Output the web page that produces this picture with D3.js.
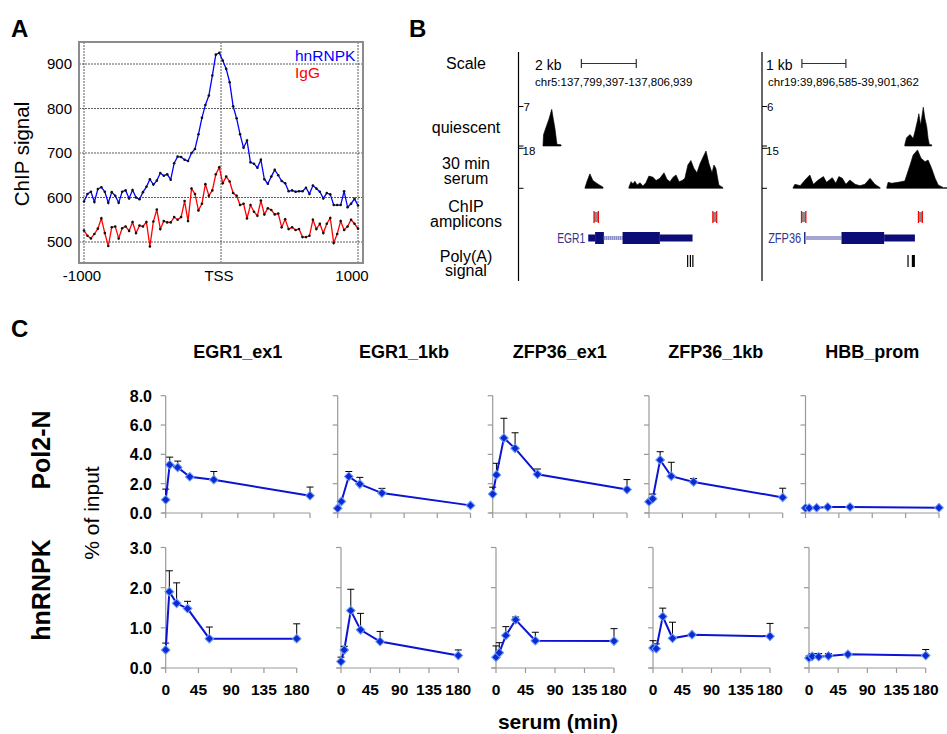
<!DOCTYPE html>
<meta charset="utf-8">
<script src="https://d3js.org/d3.v7.min.js"></script>
<head>
    <title>hnRNPK ChIP figure</title>
    <style>
        body { margin: 0; background: #fff; }
        text { font-family: "Liberation Sans", Arial, sans-serif; }
    </style>
</head>
<body>
<div id="fig"></div>
<script>
    // ---------- panel A: ChIP signal around TSS (80 bins, -1000..1000)
    const binCount = 80;
    const hnrnpkSignal = [591, 608, 613, 590, 619, 623, 613, 588, 612, 604,
        588, 613, 616, 598, 617, 600, 596, 612, 624, 641,
        629, 638, 655, 649, 652, 640, 677, 692, 691, 685,
        682, 700, 709, 742, 779, 808, 829, 874, 921, 925,
        908, 889, 859, 805, 778, 742, 712, 728, 679, 676,
        667, 685, 641, 631, 647, 662, 650, 637, 632, 614,
        616, 613, 614, 614, 622, 608, 627, 620, 613, 598,
        610, 607, 583, 583, 583, 614, 578, 586, 597, 582];
    const iggSignal = [526, 514, 508, 518, 530, 553, 520, 491, 533, 535,
        508, 531, 535, 525, 545, 520, 537, 535, 545, 490,
        546, 573, 529, 547, 544, 544, 556, 550, 556, 592,
        547, 620, 608, 571, 586, 630, 604, 616, 652, 668,
        632, 647, 636, 610, 604, 583, 586, 553, 583, 568,
        559, 593, 562, 576, 572, 562, 564, 533, 551, 529,
        533, 527, 529, 511, 511, 514, 550, 529, 541, 520,
        541, 554, 498, 518, 547, 527, 535, 550, 541, 530];
    const yTicksA = [500, 600, 700, 800, 900];
    const xTicksA = [-1000, 0, 1000];
    const xTickLabelsA = ["-1000", "TSS", "1000"];

    // ---------- panel B: browser tracks, positions in kb from locus start
    const egr1Quiescent = [[0.80, 0], [0.82, 2.0], [0.91, 3.3], [1.02, 4.8], [1.12, 6.5], [1.17, 5.0],
        [1.24, 3.0], [1.31, 0.3], [1.46, 0.2]];
    const egr1Serum = [[2.33, 0.2], [2.40, 3], [2.51, 6.5], [2.62, 3.5], [2.77, 2.2], [2.99, 0.5], [3.0, null],
        [3.93, 0.5], [4.01, 3.0], [4.08, 2.0], [4.15, 3.2], [4.23, 1.5], [4.34, 2.5], [4.44, 1.0],
        [4.55, 2.5], [4.66, 5.5], [4.81, 5.0], [4.92, 3.5], [5.06, 4.5], [5.21, 7.0], [5.32, 4.0],
        [5.43, 3.0], [5.54, 5.0], [5.65, 6.0], [5.76, 3.0], [5.87, 3.5], [5.97, 4.5], [6.08, 10.5],
        [6.19, 12.5], [6.30, 9], [6.41, 7], [6.52, 11], [6.63, 14], [6.74, 16.8], [6.85, 11],
        [6.96, 7], [7.03, 10.5], [7.10, 9], [7.21, 1.5], [7.36, 0.3]];
    const zfp36Quiescent = [[3.18, 0.2], [3.22, 1.25], [3.30, 1.75], [3.37, 1.15], [3.41, 2.15],
        [3.47, 3.9], [3.50, 4.9], [3.54, 3.15], [3.60, 5.9], [3.64, 4.15], [3.68, 2.9],
        [3.71, 1.15], [3.74, 0.2], [3.79, 0.2]];
    const zfp36Serum = [[0.64, 0.3], [0.68, 1.5], [0.80, 1.0], [0.91, 3.1], [1.02, 5.0], [1.10, 1.5],
        [1.21, 3.1], [1.33, 4.4], [1.40, 2.25], [1.53, 4.0], [1.61, 1.9], [1.68, 4.4], [1.76, 3.75],
        [1.84, 1.5], [1.93, 3.1], [2.05, 1.5], [2.16, 1.0], [2.27, 1.5], [2.39, 3.75], [2.50, 1.5],
        [2.62, 0.25], [2.64, null], [2.77, 0.3], [2.80, 2.25], [2.88, 1.9], [3.03, 2.25], [3.18, 2.75],
        [3.30, 8.75], [3.37, 12.5], [3.47, 14.4], [3.55, 11.25], [3.64, 10], [3.71, 10.6],
        [3.79, 7.5], [3.87, 3.75], [3.94, 1.25], [4.06, 0.25], [4.21, 0.25]];
    const egr1Gene = [[2.45, 2.70, "utr"], [2.70, 3.02, "cds"], [3.02, 3.70, "intron"],
        [3.70, 5.06, "cds"], [5.06, 6.25, "utr"]];
    const zfp36Gene = [[0.89, 0.92, "cds"], [0.92, 1.74, "intron"], [1.74, 2.71, "cds"], [2.71, 3.41, "utr"]];
    const egr1Amplicons = [[2.66, 2.82], [6.99, 7.13]];
    const zfp36Amplicons = [[0.83, 0.93], [3.49, 3.58]];
    const egr1PolyA = [[6.05, 6.07], [6.15, 6.17], [6.24, 6.26]];
    const zfp36PolyA = [[3.24, 3.26], [3.34, 3.41]];
    const trackLabels = [["Scale"], ["quiescent"], ["30 min", "serum"], ["ChIP", "amplicons"], ["Poly(A)", "signal"]];

    // ---------- panel C: time course, % of input
    const timePoints = [0, 5, 15, 30, 60, 180];
    const xTicksC = [0, 45, 90, 135, 180];
    const ampliconNames = ["EGR1_ex1", "EGR1_1kb", "ZFP36_ex1", "ZFP36_1kb", "HBB_prom"];
    const pol2Values = [
        [0.90, 3.29, 3.11, 2.47, 2.27, 1.18],
        [0.32, 0.79, 2.49, 1.97, 1.36, 0.52],
        [1.29, 2.60, 5.11, 4.41, 2.64, 1.60],
        [0.77, 0.97, 3.62, 2.51, 2.12, 1.06],
        [0.34, 0.34, 0.36, 0.41, 0.41, 0.36]];
    const pol2Err = [
        [0.73, 0.52, 0.43, 0, 0.56, 0.59],
        [0, 0.05, 0.34, 0.46, 0.32, 0],
        [0.47, 0.79, 1.35, 1.06, 0.36, 0.68],
        [0, 0.32, 0.56, 0.95, 0.23, 0.63],
        [0, 0, 0, 0, 0, 0]];
    const hnrnpkValues = [
        [0.45, 1.90, 1.61, 1.48, 0.73, 0.73],
        [0.16, 0.45, 1.43, 0.95, 0.66, 0.31],
        [0.27, 0.38, 0.81, 1.20, 0.68, 0.67],
        [0.50, 0.48, 1.28, 0.74, 0.83, 0.79],
        [0.25, 0.29, 0.28, 0.30, 0.34, 0.31]];
    const hnrnpkErr = [
        [0.17, 0.52, 0.51, 0.18, 0.29, 0.37],
        [0.11, 0.09, 0.53, 0.41, 0.25, 0.14],
        [0.28, 0.25, 0.22, 0.07, 0.21, 0.31],
        [0.18, 0.12, 0.21, 0.40, 0, 0.32],
        [0.05, 0.07, 0.08, 0.06, 0, 0.15]];

    const svg = d3.select("#fig").append("svg")
        .attr("width", 947).attr("height", 734);

    const panelLetter = (s, x, y) => svg.append("text").attr("x", x).attr("y", y)
        .attr("font-size", 24).attr("font-weight", "bold").text(s);

    // ================= panel A
    panelLetter("A", 11, 37);
    const xA = d3.scaleLinear().domain([-1000, 1000]).range([84, 358]);
    const yA = d3.scaleLinear().domain([500, 900]).range([242, 64]);
    const gA = svg.append("g");

    gA.selectAll(".hgrid").data(yTicksA).join("line")
        .attr("x1", 79).attr("x2", 363)
        .attr("y1", d => yA(d)).attr("y2", d => yA(d))
        .attr("stroke", "#333").attr("stroke-width", 0.8).attr("stroke-dasharray", "2,1");
    gA.selectAll(".vgrid").data(xTicksA).join("line")
        .attr("x1", d => xA(d)).attr("x2", d => xA(d))
        .attr("y1", 42).attr("y2", 263)
        .attr("stroke", "#333").attr("stroke-width", 0.8).attr("stroke-dasharray", "2,1");
    gA.append("rect").attr("x", 79).attr("y", 42).attr("width", 284).attr("height", 221)
        .attr("fill", "none").attr("stroke", "#8c8c8c").attr("stroke-width", 2);

    gA.selectAll(".ylab").data(yTicksA).join("text")
        .attr("x", 72).attr("y", d => yA(d) + 5)
        .attr("text-anchor", "end").attr("font-size", 15).text(d => d);
    gA.selectAll(".xlab").data(xTicksA).join("text")
        .attr("x", (d, i) => xA(d) + (i === 2 ? -6 : -2)).attr("y", 281)
        .attr("text-anchor", "middle").attr("font-size", 15).text((d, i) => xTickLabelsA[i]);
    gA.append("text").attr("transform", "translate(29,154) rotate(-90)")
        .attr("text-anchor", "middle").attr("font-size", 20.5).text("ChIP signal");

    const binX = i => xA(-1000 + i * 2000 / (binCount - 1));
    const lineA = d3.line().x((d, i) => binX(i)).y(d => yA(d));
    [[iggSignal, "#ff0000"], [hnrnpkSignal, "#0000ff"]].forEach(([vals, col]) => {
        gA.append("path").datum(vals).attr("d", lineA)
            .attr("fill", "none").attr("stroke", col).attr("stroke-width", 1.3);
        gA.selectAll(null).data(vals).join("circle")
            .attr("cx", (d, i) => binX(i)).attr("cy", d => yA(d))
            .attr("r", 1.3).attr("fill", "#111");
    });
    gA.append("text").attr("x", 295).attr("y", 61).attr("font-size", 15.5).attr("fill", "#0000ff").text("hnRNPK");
    gA.append("text").attr("x", 295).attr("y", 78).attr("font-size", 15.5).attr("fill", "#ff0000").text("IgG");

    // ================= panel B
    panelLetter("B", 409, 37);
    const gB = svg.append("g");
    const labelY = [[69], [133], [169, 184], [212, 227], [262, 276]];
    trackLabels.forEach((lines, i) => {
        lines.forEach((s, j) => gB.append("text").attr("x", 466).attr("y", labelY[i][j])
            .attr("text-anchor", "middle").attr("font-size", 16).text(s));
    });

    const loci = [
        {x0: 518.5, range: [521, 728], len: 7.542, kb: 2, bar: 2.2, textX: 535, coordX: 535,
         coords: "chr5:137,799,397-137,806,939",
         q: egr1Quiescent, qMax: 7, s: egr1Serum, sMax: 18, gene: egr1Gene, name: "EGR1",
         amp: egr1Amplicons, polyA: egr1PolyA, nameLen: 28},
        {x0: 762, range: [765, 975], len: 4.777, kb: 1, bar: 0.84, textX: 766, coordX: 768,
         coords: "chr19:39,896,585-39,901,362",
         q: zfp36Quiescent, qMax: 6, s: zfp36Serum, sMax: 15, gene: zfp36Gene, name: "ZFP36",
         amp: zfp36Amplicons, polyA: zfp36PolyA, nameLen: 33}
    ];

    loci.forEach(L => {
        const x = d3.scaleLinear().domain([0, L.len]).range(L.range);
        const yQ = d3.scaleLinear().domain([0, L.qMax]).range([146, 106.5]);
        const yS = d3.scaleLinear().domain([0, L.sMax]).range([188.3, 148.3]);
        gB.append("line").attr("x1", L.x0).attr("x2", L.x0).attr("y1", 52).attr("y2", 281)
            .attr("stroke", "#000").attr("stroke-width", 1.2);

        // scale bar
        gB.append("text").attr("x", L.textX).attr("y", 70).attr("font-size", 14).text(L.kb + " kb");
        const b0 = x(L.bar), b1 = x(L.bar + L.kb);
        gB.append("path").attr("d", `M${b0},59V68M${b0},63.5H${b1}M${b1},59V68`)
            .attr("stroke", "#333").attr("fill", "none").attr("stroke-width", 1.2);
        gB.append("text").attr("x", L.coordX).attr("y", 85.5).attr("font-size", 11.5).text(L.coords);

        // track scale ticks
        [106.5, 146, 148.3, 188.3].forEach(ty => {
            gB.append("line").attr("x1", L.x0).attr("x2", L.x0 + 5).attr("y1", ty).attr("y2", ty)
                .attr("stroke", "#000").attr("stroke-width", 1);
        });
        gB.append("text").attr("x", L.x0 + 5).attr("y", 110.5).attr("font-size", 11.5).text(L.qMax);
        gB.append("text").attr("x", L.x0 + 4).attr("y", 154.5).attr("font-size", 11.5).text(L.sMax);

        const areaQ = d3.area().defined(d => d[1] !== null).x(d => x(d[0])).y0(146).y1(d => yQ(d[1]));
        const areaS = d3.area().defined(d => d[1] !== null).x(d => x(d[0])).y0(188.3).y1(d => yS(d[1]));
        gB.append("path").datum(L.q).attr("d", areaQ).attr("fill", "#000").attr("stroke", "#000").attr("stroke-width", 0.6);
        gB.append("path").datum(L.s).attr("d", areaS).attr("fill", "#000").attr("stroke", "#000").attr("stroke-width", 0.6);

        // amplicons
        L.amp.forEach(([a, b]) => {
            gB.append("rect").attr("x", x(a)).attr("y", 212).attr("width", x(b) - x(a)).attr("height", 10)
                .attr("fill", "#8a8a8a");
            gB.append("path").attr("d", `M${x(a)},211V223M${x(b)},211V223`)
                .attr("stroke", "#ff0000").attr("stroke-width", 1.2);
        });

        // gene model
        L.gene.forEach(([a, b, type]) => {
            if (type === "intron") {
                gB.append("rect").attr("x", x(a)).attr("y", 236).attr("width", x(b) - x(a)).attr("height", 4)
                    .attr("fill", "#c4c4e6");
                gB.append("line").attr("x1", x(a)).attr("x2", x(b)).attr("y1", 238).attr("y2", 238)
                    .attr("stroke", "#8585c4").attr("stroke-width", 4).attr("stroke-dasharray", "1,1");
            } else {
                const h = type === "cds" ? 12 : 7;
                gB.append("rect").attr("x", x(a)).attr("y", 238 - h / 2).attr("width", Math.max(1.2, x(b) - x(a)))
                    .attr("height", h).attr("fill", "#0c0c78");
            }
        });
        gB.append("text").attr("x", x(L.gene[0][0]) - 3).attr("y", 243).attr("text-anchor", "end")
            .attr("font-size", 14).attr("fill", "#35358f")
            .attr("textLength", L.nameLen).attr("lengthAdjust", "spacingAndGlyphs").text(L.name);

        // poly(A) signals
        L.polyA.forEach(([a, b]) => {
            gB.append("rect").attr("x", x(a)).attr("y", 255).attr("width", Math.max(1.2, x(b) - x(a)))
                .attr("height", 12).attr("fill", "#000");
        });
    });

    // ================= panel C
    panelLetter("C", 11, 337);
    const gC = svg.append("g");
    const rows = [
        {vals: pol2Values, errs: pol2Err, yMax: 8, yStep: 2, y: [513, 395.7],
         xr: [[165.7, 310], [337.7, 470.5], [492.7, 627], [649, 782.7], [805.5, 939]], labels: false},
        {vals: hnrnpkValues, errs: hnrnpkErr, yMax: 3, yStep: 1, y: [668, 547.5],
         xr: [[165.7, 296.7], [341, 458.3], [496, 614], [653, 770], [809, 925.7]], labels: true}
    ];
    const fmt = d3.format(".1f");

    rows.forEach(row => {
        const y = d3.scaleLinear().domain([0, row.yMax]).range(row.y);
        const yTicks = d3.range(0, row.yMax + 0.001, row.yStep);
        row.xr.forEach((xr, p) => {
            const x = d3.scaleLinear().domain([0, 180]).range(xr);
            const g = gC.append("g");
            // axes
            g.append("line").attr("x1", xr[0]).attr("x2", xr[0]).attr("y1", row.y[1]).attr("y2", row.y[0])
                .attr("stroke", "#999").attr("stroke-width", 1.2);
            g.append("line").attr("x1", xr[0] - 4).attr("x2", xr[1]).attr("y1", row.y[0]).attr("y2", row.y[0])
                .attr("stroke", "#999").attr("stroke-width", 1.2);
            g.selectAll(".yt").data(yTicks).join("line")
                .attr("x1", xr[0] - 5).attr("x2", xr[0]).attr("y1", d => y(d)).attr("y2", d => y(d))
                .attr("stroke", "#999").attr("stroke-width", 1.2);
            g.selectAll(".xt").data(xTicksC).join("line")
                .attr("x1", d => x(d)).attr("x2", d => x(d)).attr("y1", row.y[0]).attr("y2", row.y[0] + 5)
                .attr("stroke", "#999").attr("stroke-width", 1.2);
            if (p === 0) {
                g.selectAll(".yl").data(yTicks).join("text")
                    .attr("x", 152).attr("y", d => y(d) + 6).attr("text-anchor", "end")
                    .attr("font-size", 16).attr("font-weight", "bold").text(d => fmt(d));
            }
            if (row.labels) {
                g.selectAll(".xl").data(xTicksC).join("text")
                    .attr("x", d => x(d)).attr("y", 695).attr("text-anchor", "middle")
                    .attr("font-size", 15.5).attr("font-weight", "bold").text(d => d);
            }
            const vals = row.vals[p], errs = row.errs[p];
            // error bars (upper only, centred cap)
            timePoints.forEach((t, i) => {
                if (errs[i] <= 0) return;
                const top = y(vals[i] + errs[i]);
                g.append("path").attr("d", `M${x(t)},${y(vals[i])}V${top}M${x(t) - 3.5},${top}H${x(t) + 3.5}`)
                    .attr("stroke", "#000").attr("stroke-width", 1).attr("fill", "none");
            });
            g.append("path").datum(vals)
                .attr("d", d3.line().x((d, i) => x(timePoints[i])).y(d => y(d)))
                .attr("fill", "none").attr("stroke", "#0a14d2").attr("stroke-width", 2);
            g.selectAll(".pt").data(vals).join("path")
                .attr("d", d3.symbol(d3.symbolSquare, 38))
                .attr("transform", (d, i) => `translate(${x(timePoints[i])},${y(d)}) rotate(45)`)
                .attr("fill", "#0a2ad6").attr("stroke", "#6f9cf5").attr("stroke-width", 1);
        });
    });

    rows[0].xr.forEach((xr, p) => {
        gC.append("text").attr("x", (xr[0] + xr[1]) / 2).attr("y", 358).attr("text-anchor", "middle")
            .attr("font-size", 18).attr("font-weight", "bold").text(ampliconNames[p]);
    });
    gC.append("text").attr("transform", "translate(50,450) rotate(-90)").attr("text-anchor", "middle")
        .attr("font-size", 25).attr("font-weight", "bold").text("Pol2-N");
    gC.append("text").attr("transform", "translate(50,590) rotate(-90)").attr("text-anchor", "middle")
        .attr("font-size", 25).attr("font-weight", "bold").text("hnRNPK");
    gC.append("text").attr("transform", "translate(99,513) rotate(-90)").attr("text-anchor", "middle")
        .attr("font-size", 21).text("% of input");
    gC.append("text").attr("x", 558).attr("y", 729).attr("text-anchor", "middle")
        .attr("font-size", 21).attr("font-weight", "bold").text("serum (min)");
</script>
</body>
